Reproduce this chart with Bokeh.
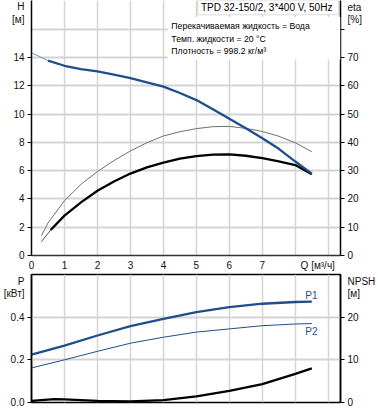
from bokeh.plotting import figure
from bokeh.models import Range1d, LinearAxis, FixedTicker, Label, BoxAnnotation, NumeralTickFormatter
from bokeh.layouts import column
from bokeh.embed import file_html
from bokeh.resources import INLINE

# ---- data ----
q_h = [0, 0.5, 1, 1.5, 2, 2.5, 3, 3.5, 4, 4.5, 5, 5.5, 6, 6.5, 7, 7.5, 8, 8.5]
head = [14.35, 13.8, 13.43, 13.2, 13.03, 12.8, 12.56, 12.25, 11.95, 11.5, 11.0, 10.35, 9.68, 9.0, 8.3, 7.55, 6.65, 5.8]

q_eta = [0.3, 0.58, 1, 1.5, 2, 2.5, 3, 3.5, 4, 4.5, 5, 5.5, 6, 6.5, 7, 7.5, 8, 8.5]
eta_pump = [4.9, 9.0, 14.1, 18.8, 22.9, 26.2, 29.0, 31.2, 32.9, 34.3, 35.2, 35.7, 35.8, 35.3, 34.5, 33.3, 32.0, 28.8]

q_eta2 = [0.3, 0.5, 1, 1.5, 2, 2.5, 3, 3.5, 4, 4.5, 5, 5.5, 6, 6.5, 7, 7.5, 8, 8.5]
eta_total = [7.0, 11.5, 19.4, 25.2, 29.7, 33.6, 37.0, 39.9, 42.3, 43.8, 44.9, 45.6, 45.7, 45.0, 43.9, 42.2, 39.9, 36.7]

q_p = [0, 1, 2, 3, 4, 5, 6, 7, 8, 8.5]
p1_kw = [0.224, 0.267, 0.314, 0.358, 0.392, 0.424, 0.447, 0.463, 0.471, 0.473]
p2_kw = [0.162, 0.200, 0.240, 0.278, 0.306, 0.330, 0.345, 0.360, 0.368, 0.370]

q_npsh = [0, 0.7, 1, 2, 3, 4, 5, 6, 7, 8, 8.5]
npsh = [0.4, 0.8, 0.75, 0.4, 0.25, 0.55, 1.45, 2.75, 4.3, 6.7, 8.0]

h_ticks = [0, 2, 4, 6, 8, 10, 12, 14]
eta_ticks = [0, 10, 20, 30, 40, 50, 60, 70]
eta_tick_marks = [0, 10, 20, 30, 40, 50, 60, 70, 80]
q_ticks = [0, 1, 2, 3, 4, 5, 6, 7]
p_ticks = [0, 0.2, 0.4]
npsh_ticks = [0, 10, 20]

# axis titles, placed at the top of each axis (value on that axis -> text)
h_title = {17.65: "H", 16.74: "[м]"}
eta_title = {87.9: "eta", 83.7: "[%]"}
q_title = {8.68: "Q [м³/ч]"}
p_title = {0.569: "P", 0.509: "[кВт]"}
npsh_title = {28.45: "NPSH", 25.6: "[м]"}

info_lines = ["Перекачиваемая жидкость = Вода", "Темп. жидкости = 20 °C", "Плотность = 998.2 кг/м³"]
pump_title = "TPD 32-150/2, 3*400 V, 50Hz"

FONT = "Liberation Sans"
BLUE = "#1f4e8c"
GRID = "#d4d4d4"

XMAX = 9.37
HMAX = 18.05


def style_axis(ax, marks, titles, tick_out=4):
    labeled = list(ax.ticker.ticks)
    ax.ticker = FixedTicker(ticks=labeled + list(titles.keys()), minor_ticks=marks)
    ax.major_label_overrides = dict(titles)
    ax.axis_line_color = "black"
    ax.axis_line_width = 1.5
    ax.major_tick_line_color = None
    ax.major_tick_out = tick_out
    ax.major_tick_in = 0
    ax.minor_tick_line_color = "black" if tick_out > 0 else None
    ax.minor_tick_out = tick_out
    ax.minor_tick_in = 0
    ax.minor_tick_line_width = 1
    ax.major_label_text_font = FONT
    ax.major_label_text_font_size = "10px"
    ax.major_label_text_color = "#111111"
    ax.major_label_standoff = 3


def lab(p, x, y, text, align="left", color="black", size="10px", rng="default"):
    p.add_layout(Label(x=x, y=y, text=text, text_font=FONT, text_font_size=size,
                       text_color=color, text_align=align, text_baseline="middle",
                       y_range_name=rng))


# ---- top figure: H and eta ----
p = figure(width=378, height=273, x_range=Range1d(0, XMAX), y_range=Range1d(0, HMAX),
           output_backend="svg", toolbar_location=None,
           min_border_left=30, min_border_right=37, min_border_top=0, min_border_bottom=16,
           outline_line_color=None, background_fill_color="white")
p.xaxis[0].ticker = FixedTicker(ticks=q_ticks)
style_axis(p.xaxis[0], [], q_title, tick_out=0)
p.xaxis[0].axis_line_color = "#333333"
p.xaxis[0].major_label_standoff = 4
p.yaxis[0].ticker = FixedTicker(ticks=h_ticks)
style_axis(p.yaxis[0], h_ticks, h_title)

p.extra_y_ranges = {"eta": Range1d(0, HMAX * 5)}
eta_axis = LinearAxis(y_range_name="eta", ticker=FixedTicker(ticks=eta_ticks))
style_axis(eta_axis, eta_tick_marks, eta_title)
p.add_layout(eta_axis, "right")

p.xgrid.ticker = FixedTicker(ticks=[1, 2, 3, 4, 5, 6, 7, 8, 9])
p.ygrid.ticker = FixedTicker(ticks=[2, 4, 6, 8, 10, 12, 14, 16])
p.xgrid.grid_line_color = GRID
p.xgrid.grid_line_width = 1.5
p.ygrid.grid_line_color = GRID
p.ygrid.grid_line_width = 2

p.line(q_eta2, eta_total, y_range_name="eta", line_color="#707070", line_width=1)
p.line(q_eta[:2], eta_pump[:2], y_range_name="eta", line_color="#555555", line_width=1)
p.line(q_eta[1:], eta_pump[1:], y_range_name="eta", line_color="black", line_width=2.3)
p.line(q_h[:2], head[:2], line_color="#7a8fb0", line_width=1)
p.line(q_h[1:], head[1:], line_color=BLUE, line_width=2.3)

# info boxes
p.add_layout(BoxAnnotation(left=4.13, right=XMAX, top=16.88, bottom=13.85,
                           fill_color="white", fill_alpha=1, line_color=None))
p.add_layout(BoxAnnotation(left=5.04, right=9.31, top=HMAX, bottom=17.04,
                           fill_color="white", fill_alpha=1, line_color="#8a8a8a", line_width=1.2))
lab(p, 5.14, 17.53, pump_title)
lab(p, 4.24, 16.25, info_lines[0], size="8.7px")
lab(p, 4.24, 15.35, info_lines[1], size="8.7px")
lab(p, 4.24, 14.47, info_lines[2], size="8.7px")

# ---- bottom figure: P and NPSH ----
q = figure(width=378, height=137, x_range=p.x_range, y_range=Range1d(0, 0.6),
           output_backend="svg", toolbar_location=None, x_axis_location=None,
           min_border_left=30, min_border_right=37, min_border_top=1, min_border_bottom=8,
           outline_line_color="black", outline_line_width=1.5, background_fill_color="white")
q.yaxis[0].ticker = FixedTicker(ticks=p_ticks)
q.yaxis[0].formatter = NumeralTickFormatter(format="0.0")
style_axis(q.yaxis[0], p_ticks, p_title)
q.extra_y_ranges = {"npsh": Range1d(0, 30)}
npsh_axis = LinearAxis(y_range_name="npsh", ticker=FixedTicker(ticks=npsh_ticks))
style_axis(npsh_axis, npsh_ticks, npsh_title)
q.add_layout(npsh_axis, "right")

q.xgrid.ticker = FixedTicker(ticks=[1, 2, 3, 4, 5, 6, 7, 8, 9])
q.ygrid.ticker = FixedTicker(ticks=[0.2, 0.4])
q.xgrid.grid_line_color = GRID
q.xgrid.grid_line_width = 1.5
q.ygrid.grid_line_color = GRID
q.ygrid.grid_line_width = 2

q.line(q_p, p2_kw, line_color=BLUE, line_width=1)
q.line(q_p, p1_kw, line_color=BLUE, line_width=2.3)
q.line(q_npsh, npsh, y_range_name="npsh", line_color="black", line_width=2.3)

lab(q, 8.49, 0.501, "P1", align="center", color=BLUE)
lab(q, 8.49, 0.334, "P2", align="center", color=BLUE)

layout = column(p, q, spacing=0)

open("out.html", "w").write(file_html(layout, INLINE))
